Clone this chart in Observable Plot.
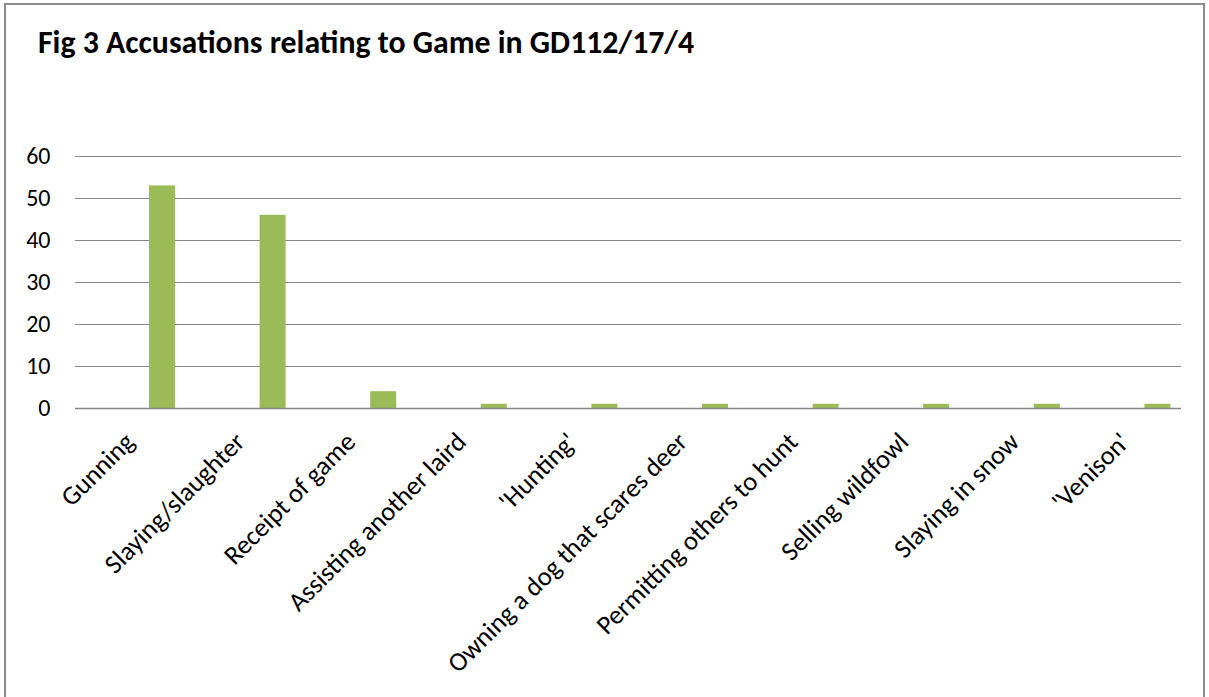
<!DOCTYPE html>
<html>
<head>
<meta charset="utf-8">
<script src="https://cdn.jsdelivr.net/npm/d3@7"></script>
<script src="https://cdn.jsdelivr.net/npm/@observablehq/plot@0.6"></script>
<style>
  html, body { margin: 0; padding: 0; background: #fff; }
  #frame { position: relative; width: 1209px; height: 697px; overflow: hidden; font-family: Carlito, Calibri, Lato, sans-serif; }
  #border { position: absolute; left: 4px; top: 3px; width: 1201px; height: 760px; border: 2px solid #8c8c8c; box-sizing: border-box; }
  #title { position: absolute; left: 38px; top: 27px; font-size: 31.8px; line-height: 1; font-weight: bold; color: #000; white-space: nowrap; }
  #chart { position: absolute; left: 0; top: 110px; }
</style>
</head>
<body>
<div id="frame">
  <div id="border"></div>
  <div id="title">Fig 3 Accusations relating to Game in GD112/17/4</div>
  <div id="chart"></div>
</div>
<script>
const categories = ["Gunning", "Slaying/slaughter", "Receipt of game", "Assisting another laird", "'Hunting'", "Owning a dog that scares deer", "Permitting others to hunt", "Selling wildfowl", "Slaying in snow", "'Venison'"];
const values = [53, 46, 4, 1, 1, 1, 1, 1, 1, 1];
const yTicks = [0, 10, 20, 30, 40, 50, 60];

const data = categories.map((c, i) => ({cat: c, value: values[i]}));

const chart = Plot.plot({
  width: 1209,
  height: 587,
  marginTop: 46,
  marginBottom: 289,
  marginLeft: 75,
  marginRight: 28,
  style: {fontFamily: "Carlito, Calibri, Lato, sans-serif", color: "#000", background: "transparent"},
  x: {domain: categories, padding: 0, round: false, label: null},
  y: {domain: [0, 60], label: null},
  marks: [
    Plot.gridY(yTicks, {stroke: "#868686", strokeOpacity: 1, strokeWidth: 1.2}),
    Plot.barY(data, {x: "cat", y: "value", fill: "#9BBB59", insetLeft: 74, insetRight: 10.6}),
    Plot.ruleY([0], {stroke: "#868686", strokeWidth: 1.5}),
    Plot.axisY(yTicks, {tickSize: 0, tickPadding: 25, fontSize: 24, fill: "#000"}),
    Plot.axisX({tickSize: 0, tickRotate: -45, tickPadding: 29, fontSize: 26.5, fill: "#000", dx: -1})
  ]
});
document.getElementById("chart").appendChild(chart);
</script>
</body>
</html>
